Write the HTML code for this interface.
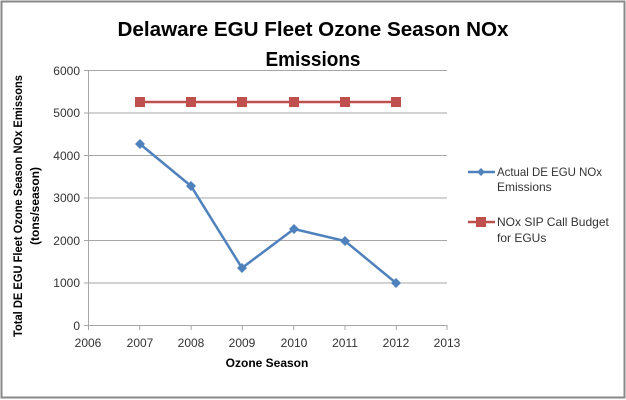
<!DOCTYPE html>
<html><head><meta charset="utf-8"><style>
html,body{margin:0;padding:0;background:#fff}
svg{display:block}
text{font-family:"Liberation Sans",sans-serif}
</style></head><body>
<svg width="626" height="400" xmlns="http://www.w3.org/2000/svg">
<rect x="1.5" y="1.5" width="623" height="396" fill="#fff" stroke="#888" stroke-width="2"/>
<text x="313" y="36" font-size="20" font-weight="bold" text-anchor="middle" textLength="391" lengthAdjust="spacingAndGlyphs" fill="#000">Delaware EGU Fleet Ozone Season NOx</text>
<text x="313" y="66" font-size="20" font-weight="bold" text-anchor="middle" textLength="95" lengthAdjust="spacingAndGlyphs" fill="#000">Emissions</text>
<g stroke="#a6a6a6" stroke-width="1">
<line x1="88" y1="70.5" x2="447" y2="70.5"/>
<line x1="88" y1="113" x2="447" y2="113"/>
<line x1="88" y1="155.5" x2="447" y2="155.5"/>
<line x1="88" y1="198" x2="447" y2="198"/>
<line x1="88" y1="240.5" x2="447" y2="240.5"/>
<line x1="88" y1="283" x2="447" y2="283"/>
<line x1="88" y1="325.5" x2="447" y2="325.5"/>
<line x1="88.5" y1="70" x2="88.5" y2="325"/>
<line x1="84" y1="70.5" x2="88" y2="70.5"/><line x1="84" y1="113" x2="88" y2="113"/><line x1="84" y1="155.5" x2="88" y2="155.5"/><line x1="84" y1="198" x2="88" y2="198"/><line x1="84" y1="240.5" x2="88" y2="240.5"/><line x1="84" y1="283" x2="88" y2="283"/><line x1="84" y1="325.5" x2="88" y2="325.5"/>
<line x1="88.5" y1="325" x2="88.5" y2="330"/><line x1="139.8" y1="325" x2="139.8" y2="330"/><line x1="191.1" y1="325" x2="191.1" y2="330"/><line x1="242.4" y1="325" x2="242.4" y2="330"/><line x1="293.7" y1="325" x2="293.7" y2="330"/><line x1="345" y1="325" x2="345" y2="330"/><line x1="396.3" y1="325" x2="396.3" y2="330"/><line x1="447" y1="325" x2="447" y2="330"/>
</g>
<g font-size="12" fill="#333" text-anchor="end">
<text x="80" y="75">6000</text><text x="80" y="117">5000</text><text x="80" y="160">4000</text><text x="80" y="202">3000</text><text x="80" y="245">2000</text><text x="80" y="287">1000</text><text x="80" y="330">0</text>
</g>
<g font-size="12" fill="#333" text-anchor="middle">
<text x="88" y="347">2006</text><text x="140" y="347">2007</text><text x="191" y="347">2008</text><text x="242" y="347">2009</text><text x="294" y="347">2010</text><text x="345" y="347">2011</text><text x="396" y="347">2012</text><text x="447" y="347">2013</text>
</g>
<text x="267" y="367" font-size="12" font-weight="bold" text-anchor="middle">Ozone Season</text>
<text transform="translate(22,206) rotate(-90)" font-size="12" font-weight="bold" text-anchor="middle" textLength="262" lengthAdjust="spacingAndGlyphs">Total DE EGU Fleet Ozone Season NOx Emissons</text>
<text transform="translate(39,206) rotate(-90)" font-size="12" font-weight="bold" text-anchor="middle">(tons/season)</text>
<polyline points="140,102 191,102 242,102 294,102 345,102 396,102" fill="none" stroke="#c0504d" stroke-width="2.5"/>
<g fill="#c0504d">
<rect x="135" y="97" width="10" height="10"/><rect x="186" y="97" width="10" height="10"/><rect x="237" y="97" width="10" height="10"/><rect x="289" y="97" width="10" height="10"/><rect x="340" y="97" width="10" height="10"/><rect x="391" y="97" width="10" height="10"/>
</g>
<polyline points="140,144 191,186 242,268 294,229 345,241 396,283" fill="none" stroke="#4f81bd" stroke-width="2.5"/>
<g fill="#4f81bd">
<polygon points="140,139 145,144 140,149 135,144"/><polygon points="191,181 196,186 191,191 186,186"/><polygon points="242,263 247,268 242,273 237,268"/><polygon points="294,224 299,229 294,234 289,229"/><polygon points="345,236 350,241 345,246 340,241"/><polygon points="396,278 401,283 396,288 391,283"/>
</g>
<line x1="468" y1="172" x2="495" y2="172" stroke="#4f81bd" stroke-width="2.5"/>
<polygon points="481,168 485,172 481,176 477,172" fill="#4f81bd"/>
<text x="497" y="176" font-size="12" fill="#333" textLength="105" lengthAdjust="spacingAndGlyphs">Actual DE EGU NOx</text>
<text x="497" y="191" font-size="12" fill="#333">Emissions</text>
<line x1="468" y1="222" x2="495" y2="222" stroke="#c0504d" stroke-width="2.5"/>
<rect x="476" y="217" width="10" height="10" fill="#c0504d"/>
<text x="497" y="226" font-size="12" fill="#333">NOx SIP Call Budget</text>
<text x="497" y="242" font-size="12" fill="#333">for EGUs</text>
</svg>
</body></html>
